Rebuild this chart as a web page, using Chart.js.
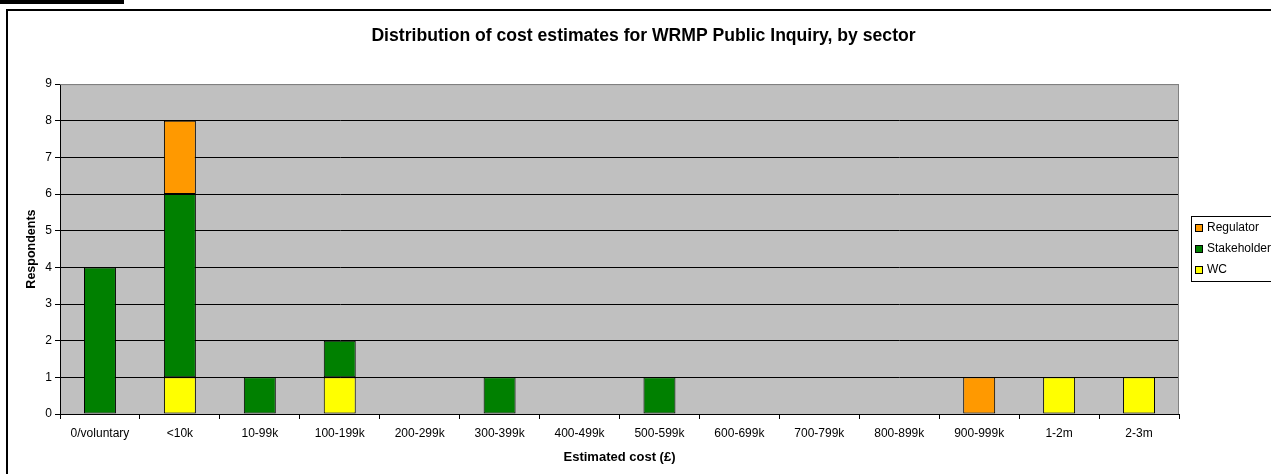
<!DOCTYPE html>
<html lang="en">
<head>
    <meta charset="UTF-8">
    <title>Distribution of cost estimates</title>
    <script src="https://cdn.jsdelivr.net/npm/chart.js"></script>
    <style>
        html, body { margin: 0; padding: 0; background: #fff; overflow: hidden; width: 1271px; height: 474px; }
        #topbar { position: absolute; left: 0; top: 0; width: 124px; height: 4px; background: #000; }
        #frame { position: absolute; left: 6px; top: 9px; width: 1400px; height: 600px; border: 2px solid #000; }
        #grafico { position: absolute; left: 0; top: 0; }
    </style>
</head>
<body>
    <div id="topbar"></div>
    <div id="frame"></div>
    <canvas id="grafico" width="1287" height="474"></canvas>
    <script>
        const categorias = ['0/voluntary', '<10k', '10-99k', '100-199k', '200-299k', '300-399k', '400-499k',
            '500-599k', '600-699k', '700-799k', '800-899k', '900-999k', '1-2m', '2-3m'];
        const wc = [null, 1, null, 1, null, null, null, null, null, null, null, null, 1, 1];
        const stakeholder = [4, 5, 1, 1, null, 1, null, 1, null, null, null, null, null, null];
        const regulator = [null, 2, null, null, null, null, null, null, null, null, null, 1, null, null];
        const yTicks = [0, 1, 2, 3, 4, 5, 6, 7, 8, 9];

        Chart.defaults.font.family = '"Liberation Sans", Arial, sans-serif';
        Chart.defaults.font.size = 12;
        Chart.defaults.color = '#000';

        // grey plot background plus the grey top/right edges
        const fundo = {
            id: 'fundo',
            beforeDraw(chart) {
                const a = chart.chartArea, ctx = chart.ctx;
                ctx.save();
                ctx.fillStyle = '#c0c0c0';
                ctx.fillRect(a.left, a.top, a.right - a.left, a.bottom - a.top);
                ctx.restore();
            },
            afterDatasetsDraw(chart) {
                const a = chart.chartArea, ctx = chart.ctx;
                ctx.save();
                ctx.strokeStyle = '#808080';
                ctx.lineWidth = 1;
                ctx.beginPath();
                ctx.moveTo(a.left, a.top + 0.5);
                ctx.lineTo(a.right - 0.5, a.top + 0.5);
                ctx.lineTo(a.right - 0.5, a.bottom);
                ctx.stroke();
                ctx.restore();
            }
        };

        // boxed legend on the right, top series first
        const legenda = {
            id: 'legenda',
            afterDraw(chart) {
                const ctx = chart.ctx;
                const x = 1191, y = 216, w = 110, h = 65;
                ctx.save();
                ctx.fillStyle = '#fff';
                ctx.fillRect(x, y, w, h);
                ctx.strokeStyle = '#000';
                ctx.lineWidth = 1;
                ctx.strokeRect(x + 0.5, y + 0.5, w, h);
                ctx.font = '12px "Liberation Sans", Arial, sans-serif';
                ctx.textBaseline = 'middle';
                const ds = chart.data.datasets.slice().reverse();
                ds.forEach((d, i) => {
                    const cy = y + 12 + i * 21;
                    ctx.fillStyle = d.backgroundColor;
                    ctx.fillRect(x + 4, cy - 4, 7, 7);
                    ctx.strokeStyle = '#000';
                    ctx.strokeRect(x + 4.5, cy - 3.5, 7, 7);
                    ctx.fillStyle = '#000';
                    ctx.fillText(d.label, x + 16, cy);
                });
                ctx.restore();
            }
        };

        function barra(label, data, cor) {
            return {
                label: label,
                data: data,
                backgroundColor: cor,
                borderColor: '#000',
                borderWidth: 1,
                borderSkipped: false,
                inflateAmount: 0,
                categoryPercentage: 1,
                barPercentage: 0.4
            };
        }

        function criarGrafico() {
            const ctx = document.getElementById('grafico').getContext('2d');
            new Chart(ctx, {
                type: 'bar',
                data: {
                    labels: categorias,
                    datasets: [
                        barra('WC', wc, '#ffff00'),
                        barra('Stakeholder', stakeholder, '#008000'),
                        barra('Regulator', regulator, '#ff9900')
                    ]
                },
                options: {
                    responsive: false,
                    animation: false,
                    layout: { padding: 0 },
                    plugins: {
                        legend: { display: false },
                        tooltip: { enabled: false },
                        title: {
                            display: true,
                            text: 'Distribution of cost estimates for WRMP Public Inquiry, by sector',
                            font: { size: 17.6, weight: 'bold' },
                            color: '#000',
                            padding: { top: 26, bottom: 37 }
                        }
                    },
                    scales: {
                        x: {
                            stacked: true,
                            grid: { drawOnChartArea: false, drawTicks: true, tickLength: 5, tickColor: '#000', offset: true },
                            border: { display: true, color: '#000', width: 1 },
                            ticks: { padding: 7, maxRotation: 0, autoSkip: false },
                            title: {
                                display: true,
                                text: 'Estimated cost (£)',
                                font: { weight: 'bold', size: 13 },
                                padding: { top: 0, bottom: 9 }
                            },
                            afterFit(scale) { scale.height = 60; }
                        },
                        y: {
                            stacked: true,
                            min: yTicks[0],
                            max: yTicks[yTicks.length - 1],
                            afterBuildTicks(scale) { scale.ticks = yTicks.map(v => ({ value: v })); },
                            grid: {
                                color: c => (c.tick && c.tick.value === 9 ? '#808080' : '#000'),
                                tickColor: '#000',
                                tickLength: 5
                            },
                            border: { display: true, color: '#000', width: 1 },
                            ticks: { padding: 3 },
                            title: {
                                display: true,
                                text: 'Respondents',
                                font: { weight: 'bold', size: 12.5 },
                                padding: { top: 24, bottom: 0 }
                            },
                            afterFit(scale) { scale.width = 60; }
                        },
                        lado: {
                            position: 'right',
                            display: true,
                            grid: { display: false },
                            border: { display: false },
                            ticks: { display: false },
                            afterFit(scale) { scale.width = 1287 - 1179; }
                        }
                    }
                },
                plugins: [fundo, legenda]
            });
        }

        window.onload = function() {
            criarGrafico();
        };
    </script>
</body>
</html>
